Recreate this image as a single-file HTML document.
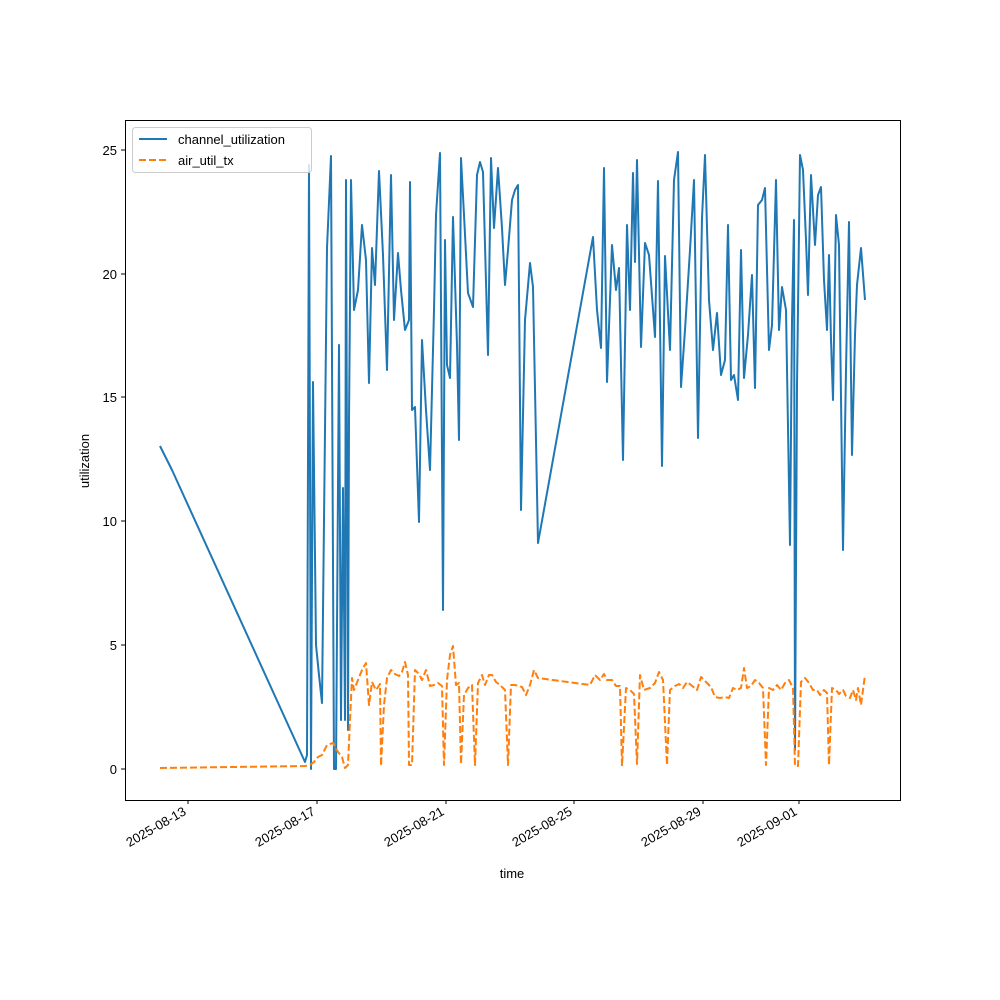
<!DOCTYPE html>
<html><head><meta charset="utf-8"><style>body{margin:0;background:#fff}svg{display:block}text{font-family:"Liberation Sans","DejaVu Sans",sans-serif;font-size:13px;fill:#000}</style></head><body>
<svg width="1000" height="1000" viewBox="0 0 1000 1000" xmlns="http://www.w3.org/2000/svg">
<rect width="1000" height="1000" fill="#fff"/>
<defs><clipPath id="c"><rect x="125" y="120" width="775" height="680"/></clipPath></defs>
<g clip-path="url(#c)" fill="none" stroke-width="2" stroke-linejoin="round">
<polyline stroke="#1f77b4" points="160,446 172,470 305,762 307,755 309,165 311,769 313,382 316,645 319,675 322,703 327,248 331,156 334,769 336,769 339,345 341,720 343,488 345,720 346,180 348,730 349,420 351,180 354,310 358,290 362,225 366,260 369,383 372,248 375,285 379,171 383,255 387,370 391,175 394,320 398,253 401,290 405,330 409,320 410,182 412,410 415,407 419,522 422,340 426,410 430,470 434,310 436,215 440,153 443,610 445,240 447,365 450,378 453,217 457,345 459,440 461,158 464,215 468,293 473,307 477,175 480,162 483,172 488,355 491,158 494,228 498,168 502,228 505,285 508,250 512,200 515,190 518,185 521,510 525,320 530,263 533,287 538,543 593,237 597,310 601,348 604,168 607,382 612,245 616,290 619,268 623,460 627,225 630,310 633,173 635,262 637,160 641,347 645,243 649,255 655,337 658,181 662,466 665,256 670,350 674,180 678,152 681,387 685,330 690,250 694,180 698,438 702,218 705,155 709,300 713,350 717,313 721,375 725,360 728,225 731,380 734,375 738,400 741,250 744,378 748,335 752,275 755,388 758,205 762,200 765,188 769,350 772,325 776,180 779,330 782,287 786,310 790,545 792,320 794,220 795,750 797,385 800,155 803,170 806,240 808,295 811,175 815,245 818,195 821,187 824,280 827,330 829,255 831,340 833,400 836,215 839,245 843,550 846,370 849,222 852,455 855,335 857,285 861,248 865,300"/>
<polyline stroke="#ff7f0e" stroke-dasharray="7,3" points="160,768 305,766 310,765 314,762 318,757 322,755 327,745 333,743 338,752 342,757 345,768 348,765 350,720 352,678 354,690 358,680 362,670 366,663 369,705 372,682 376,690 380,684 381,766 384,705 387,678 391,670 395,674 399,676 402,672 405,662 408,675 409,765 412,765 415,670 419,674 422,680 426,670 430,686 434,685 438,683 442,686 444,765 447,680 450,655 453,646 456,685 459,683 461,764 464,695 468,688 472,685 475,765 478,683 482,675 485,685 489,675 492,675 496,682 500,685 505,690 508,765 511,685 515,685 522,687 526,695 530,685 534,670 538,678 590,685 595,675 600,680 604,674 607,680 612,680 616,686 620,686 622,766 626,688 630,690 634,694 637,764 640,675 644,690 650,688 655,683 659,672 663,680 667,765 670,690 675,686 679,684 683,688 687,682 691,685 697,690 701,677 707,683 711,687 715,697 720,698 725,697 729,698 733,688 737,690 741,688 744,668 747,688 751,686 755,680 759,683 763,688 766,765 769,688 773,690 777,685 781,690 785,683 789,680 793,688 795,766 798,766 801,682 805,678 809,683 813,690 817,690 820,695 824,690 827,693 829,765 832,688 836,690 839,694 843,690 846,696 850,698 853,690 856,700 858,688 861,705 865,675"/>
</g>
<rect x="125.5" y="120.5" width="775" height="680" fill="none" stroke="#000" stroke-width="1"/>
<g stroke="#000" stroke-width="1">
<line x1="125" y1="769" x2="121" y2="769"/><line x1="125" y1="645" x2="121" y2="645"/><line x1="125" y1="521" x2="121" y2="521"/><line x1="125" y1="397" x2="121" y2="397"/><line x1="125" y1="274" x2="121" y2="274"/><line x1="125" y1="150" x2="121" y2="150"/>
<line x1="188" y1="800" x2="188" y2="804"/><line x1="317" y1="800" x2="317" y2="804"/><line x1="446" y1="800" x2="446" y2="804"/><line x1="574" y1="800" x2="574" y2="804"/><line x1="703" y1="800" x2="703" y2="804"/><line x1="799" y1="800" x2="799" y2="804"/>
</g>
<g text-anchor="end">
<text x="117" y="774">0</text><text x="117" y="650">5</text><text x="117" y="526">10</text><text x="117" y="402">15</text><text x="117" y="279">20</text><text x="117" y="155">25</text>
<text transform="translate(187,814) rotate(-30)">2025-08-13</text>
<text transform="translate(316,814) rotate(-30)">2025-08-17</text>
<text transform="translate(445,814) rotate(-30)">2025-08-21</text>
<text transform="translate(573,814) rotate(-30)">2025-08-25</text>
<text transform="translate(702,814) rotate(-30)">2025-08-29</text>
<text transform="translate(798,814) rotate(-30)">2025-09-01</text>
</g>
<text x="512" y="878" text-anchor="middle">time</text>
<text transform="translate(89,461) rotate(-90)" text-anchor="middle">utilization</text>
<rect x="132.5" y="127.5" width="179" height="45" rx="3" fill="#fff" fill-opacity="0.8" stroke="#ccc"/>
<line x1="139" y1="139" x2="167" y2="139" stroke="#1f77b4" stroke-width="2"/>
<line x1="139" y1="160" x2="167" y2="160" stroke="#ff7f0e" stroke-width="2" stroke-dasharray="7,3"/>
<text x="178" y="144">channel_utilization</text>
<text x="178" y="165">air_util_tx</text>
</svg>
</body></html>
